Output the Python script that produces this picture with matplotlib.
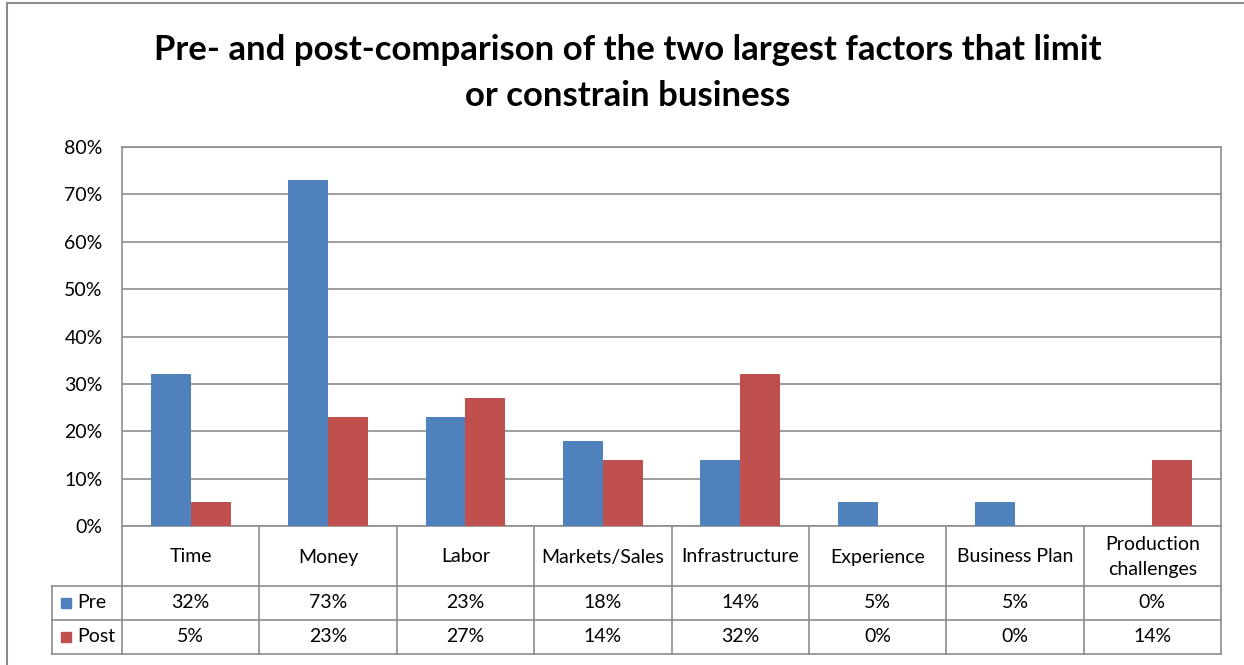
import matplotlib.pyplot as plt
from matplotlib.patches import Rectangle
from matplotlib.lines import Line2D
import numpy as np

categories = ['Time', 'Money', 'Labor', 'Markets/Sales', 'Infrastructure',
              'Experience', 'Business Plan', 'Production\nchallenges']
pre = [32, 73, 23, 18, 14, 5, 5, 0]
post = [5, 23, 27, 14, 32, 0, 0, 14]
series = [('Pre', pre, '#4F81BD'), ('Post', post, '#C0504D')]
yticks = [0, 10, 20, 30, 40, 50, 60, 70, 80]

plt.rcParams['font.family'] = ['Lato', 'DejaVu Sans']
W, H = 1244, 665
fig = plt.figure(figsize=(W / 100, H / 100), dpi=100)
fs = 14

# plot area in pixel coordinates
left, right, top, bottom = 122, 1221, 147, 526
ax = fig.add_axes([left / W, 1 - bottom / H, (right - left) / W, (bottom - top) / H])

x = np.arange(len(categories))
bw = 0.29
for i, (name, vals, col) in enumerate(series):
    ax.bar(x + (i - 0.5) * bw, np.array(vals) / 100, width=bw, color=col, zorder=3)

ax.set_xlim(-0.5, len(categories) - 0.5)
ax.set_ylim(0, 0.8)
ax.set_yticks([t / 100 for t in yticks])
ax.set_yticklabels([f'{t}%' for t in yticks], fontsize=fs)
ax.tick_params(axis='y', length=0, pad=14)
ax.set_xticks([])
ax.grid(axis='y', color='#8C8C8C', linewidth=1.2, zorder=0)
for s in ax.spines.values():
    s.set_color('#8C8C8C')
    s.set_linewidth(1.2)

# data table under the plot
tr = ax.get_xaxis_transform()
ph = bottom - top
cw = (right - left) / len(categories)
def ay(py):
    return (bottom - py) / ph

row_cat, row_pre, row_post, row_end = 526, 586, 620, 654
lc = dict(color='#8C8C8C', linewidth=1.2, clip_on=False)
legend_left = -0.5 - (left - 52) / cw
for b in np.arange(-0.5, len(categories), 1.0):
    ax.add_line(Line2D([b, b], [ay(row_cat), ay(row_end)], transform=tr, **lc))
for py in (row_pre, row_post, row_end):
    ax.add_line(Line2D([legend_left, len(categories) - 0.5], [ay(py), ay(py)], transform=tr, **lc))
ax.add_line(Line2D([legend_left, legend_left], [ay(row_pre), ay(row_end)], transform=tr, **lc))

for i, c in enumerate(categories):
    ax.text(i, ay((row_cat + row_pre) / 2 + 1), c, transform=tr, ha='center', va='center',
            fontsize=fs, linespacing=1.55)
    for (name, vals, col), (r0, r1) in zip(series, [(row_pre, row_post), (row_post, row_end)]):
        ax.text(i, ay((r0 + r1) / 2), f'{vals[i]}%', transform=tr, ha='center', va='center',
                fontsize=fs)

for (name, vals, col), (r0, r1) in zip(series, [(row_pre, row_post), (row_post, row_end)]):
    ym = ay((r0 + r1) / 2)
    ax.add_patch(Rectangle((legend_left + 9 / cw, ym - 5 / ph), 10 / cw, 10 / ph, transform=tr,
                           color=col, clip_on=False))
    ax.text(legend_left + 25 / cw, ym, name, transform=tr, ha='left', va='center', fontsize=fs)

# chart title
fig.text(628 / W, 1 - 50 / H, 'Pre- and post-comparison of the two largest factors that limit',
         ha='center', va='center', fontsize=25, fontweight='bold')
fig.text(628 / W, 1 - 96 / H, 'or constrain business',
         ha='center', va='center', fontsize=25, fontweight='bold')

# chart area border
fig.patches.append(Rectangle((7 / W, -0.1), 1.2, 1 - 3 / H + 0.1, transform=fig.transFigure,
                             fill=False, edgecolor='#8C8C8C', linewidth=1.5))

fig.savefig('out.png', dpi=100, facecolor='white')
